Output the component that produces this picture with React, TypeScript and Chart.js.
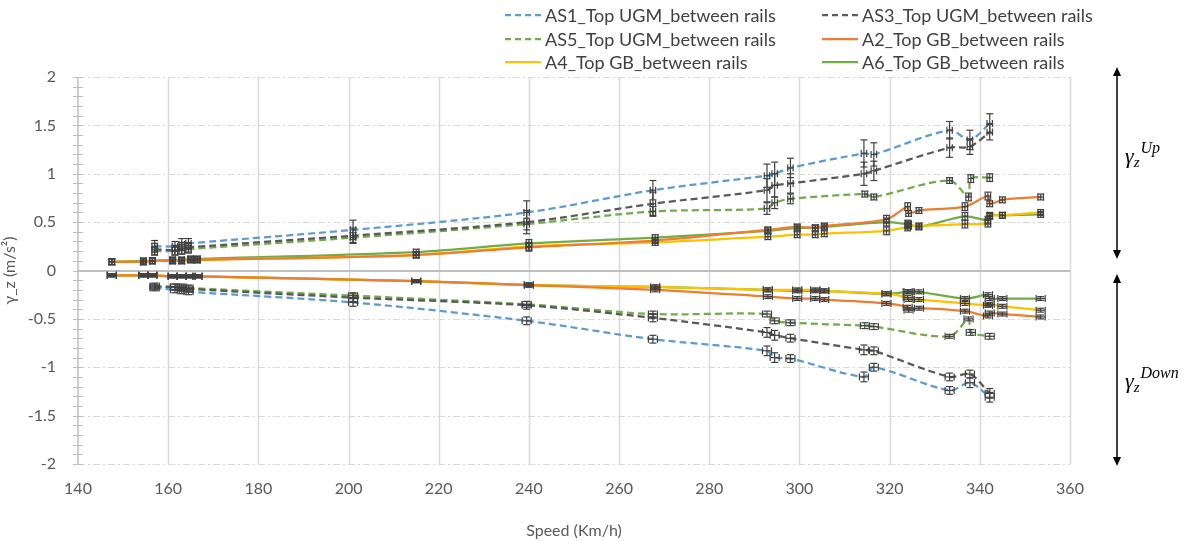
import React, { useEffect, useRef } from "react";
import { Chart, registerables } from "chart.js";

Chart.register(...registerables);

// ---------- data ----------
const X_TICKS = [140, 160, 180, 200, 220, 240, 260, 280, 300, 320, 340, 360];
const Y_TICKS = [-2, -1.5, -1, -0.5, 0, 0.5, 1, 1.5, 2];

const AS_SPEED = [157, 161.5, 163, 164.5, 201, 239.5, 267.5, 292.8, 294.5, 298, 314.3, 316.5, 333.3, 337.8, 342.2];
const AS1_UP = [0.25, 0.25, 0.27, 0.28, 0.42, 0.6, 0.83, 0.98, 1.0, 1.06, 1.21, 1.2, 1.45, 1.35, 1.52];
const AS1_DOWN = [-0.18, -0.2, -0.21, -0.22, -0.33, -0.52, -0.71, -0.83, -0.9, -0.91, -1.1, -1.0, -1.24, -1.16, -1.31];
const AS1_UP_ERR = [0.06, 0.05, 0.06, 0.05, 0.1, 0.12, 0.1, 0.12, 0.12, 0.1, 0.14, 0.12, 0.09, 0.1, 0.1];
const AS1_DOWN_ERR = [0.03, 0.03, 0.03, 0.03, 0.04, 0.04, 0.04, 0.05, 0.05, 0.04, 0.05, 0.04, 0.04, 0.05, 0.05];

const AS3_UP = [0.22, 0.21, 0.23, 0.24, 0.36, 0.5, 0.69, 0.83, 0.88, 0.9, 1.0, 1.03, 1.27, 1.28, 1.43];
const AS3_DOWN = [-0.17, -0.17, -0.18, -0.19, -0.28, -0.36, -0.49, -0.64, -0.67, -0.7, -0.82, -0.83, -1.1, -1.07, -1.27];
const AS3_UP_ERR = [0.06, 0.05, 0.06, 0.05, 0.08, 0.12, 0.12, 0.12, 0.12, 0.1, 0.12, 0.1, 0.1, 0.08, 0.08];
const AS3_DOWN_ERR = [0.03, 0.03, 0.03, 0.03, 0.04, 0.04, 0.04, 0.05, 0.05, 0.04, 0.05, 0.04, 0.04, 0.04, 0.05];

const AS5_SPEED = [157, 161.5, 163, 164.5, 201, 239.5, 267.5, 292.8, 294.5, 298, 314.5, 316.5, 333.3, 337.5, 338, 342.2];
const AS5_UP = [0.2, 0.2, 0.21, 0.22, 0.34, 0.48, 0.61, 0.64, 0.7, 0.74, 0.79, 0.76, 0.93, 0.76, 0.95, 0.96];
const AS5_DOWN = [-0.16, -0.17, -0.17, -0.18, -0.26, -0.35, -0.45, -0.45, -0.52, -0.54, -0.57, -0.58, -0.68, -0.5, -0.64, -0.68];
const AS5_UP_ERR = [0.04, 0.04, 0.04, 0.04, 0.05, 0.06, 0.05, 0.06, 0.06, 0.05, 0.03, 0.03, 0.03, 0.04, 0.04, 0.04];
const AS5_DOWN_ERR = [0.03, 0.03, 0.03, 0.03, 0.03, 0.03, 0.03, 0.03, 0.03, 0.03, 0.03, 0.03, 0.02, 0.02, 0.03, 0.03];

const A_SPEED = [147.5, 154.5, 156.5, 161, 163, 165, 166.5, 215, 240, 268, 293, 299.5, 303.5, 305.5, 319.3, 324, 324.2, 326.5, 336.7, 341.8, 342.2, 345, 353.5];
const A2_UP = [0.09, 0.09, 0.1, 0.1, 0.1, 0.11, 0.11, 0.16, 0.24, 0.31, 0.42, 0.45, 0.44, 0.46, 0.53, 0.66, 0.59, 0.62, 0.66, 0.77, 0.69, 0.73, 0.76];
const A2_DOWN = [-0.05, -0.05, -0.05, -0.06, -0.06, -0.06, -0.06, -0.11, -0.15, -0.2, -0.27, -0.29, -0.29, -0.3, -0.34, -0.38, -0.41, -0.39, -0.42, -0.47, -0.44, -0.45, -0.48];
const A4_UP = [0.09, 0.09, 0.1, 0.1, 0.1, 0.11, 0.11, 0.16, 0.25, 0.29, 0.35, 0.37, 0.37, 0.38, 0.41, 0.45, 0.46, 0.46, 0.48, 0.49, 0.56, 0.57, 0.6];
const A4_DOWN = [-0.05, -0.05, -0.05, -0.06, -0.06, -0.06, -0.06, -0.11, -0.15, -0.17, -0.2, -0.2, -0.2, -0.21, -0.24, -0.28, -0.3, -0.3, -0.34, -0.36, -0.35, -0.37, -0.41];
const A6_UP = [0.09, 0.1, 0.1, 0.11, 0.11, 0.12, 0.12, 0.19, 0.28, 0.34, 0.41, 0.44, 0.44, 0.45, 0.5, 0.48, 0.48, 0.45, 0.56, 0.52, 0.57, 0.57, 0.58];
const A6_DOWN = [-0.05, -0.05, -0.05, -0.06, -0.06, -0.06, -0.06, -0.11, -0.15, -0.17, -0.2, -0.21, -0.21, -0.21, -0.24, -0.22, -0.22, -0.22, -0.29, -0.25, -0.29, -0.29, -0.29];
const A_UP_ERR = [0.03, 0.03, 0.03, 0.03, 0.03, 0.03, 0.03, 0.03, 0.04, 0.03, 0.03, 0.03, 0.03, 0.03, 0.04, 0.04, 0.03, 0.03, 0.04, 0.04, 0.03, 0.03, 0.03];
const A_DOWN_ERR = [0.015, 0.015, 0.015, 0.015, 0.015, 0.015, 0.015, 0.015, 0.02, 0.02, 0.02, 0.02, 0.02, 0.02, 0.02, 0.02, 0.02, 0.02, 0.02, 0.02, 0.02, 0.02, 0.02];

const X_ERR_UP = 0.6;
const X_ERR_DOWN = 1.0;

const SERIES = [
  { name: "AS1_Top UGM_between rails", color: "#5B9BD5", dashed: true, speed: AS_SPEED, up: AS1_UP, down: AS1_DOWN, upErr: AS1_UP_ERR, downErr: AS1_DOWN_ERR },
  { name: "AS3_Top UGM_between rails", color: "#595959", dashed: true, speed: AS_SPEED, up: AS3_UP, down: AS3_DOWN, upErr: AS3_UP_ERR, downErr: AS3_DOWN_ERR },
  { name: "AS5_Top UGM_between rails", color: "#70AD47", dashed: true, speed: AS5_SPEED, up: AS5_UP, down: AS5_DOWN, upErr: AS5_UP_ERR, downErr: AS5_DOWN_ERR },
  { name: "A2_Top GB_between rails", color: "#ED7D31", dashed: false, speed: A_SPEED, up: A2_UP, down: A2_DOWN, upErr: A_UP_ERR, downErr: A_DOWN_ERR },
  { name: "A4_Top GB_between rails", color: "#FFC000", dashed: false, speed: A_SPEED, up: A4_UP, down: A4_DOWN, upErr: A_UP_ERR, downErr: A_DOWN_ERR },
  { name: "A6_Top GB_between rails", color: "#70AD47", dashed: false, speed: A_SPEED, up: A6_UP, down: A6_DOWN, upErr: A_UP_ERR, downErr: A_DOWN_ERR },
];

const FONT = "Lato, 'Open Sans', sans-serif";
const DASH = [7, 4];

function line(ctx: CanvasRenderingContext2D, x1: number, y1: number, x2: number, y2: number) {
  ctx.beginPath();
  ctx.moveTo(x1, y1);
  ctx.lineTo(x2, y2);
  ctx.stroke();
}

const backgroundPlugin = {
  id: "bgGrid",
  beforeDatasetsDraw(chart: any) {
    const { ctx, chartArea: a, scales } = chart;
    const x = scales.x;
    const y = scales.y;
    ctx.save();
    ctx.strokeStyle = "#d9d9d9";
    ctx.lineWidth = 1.5;
    for (const t of X_TICKS) {
      if (t === X_TICKS[0]) continue;
      const px = Math.round(x.getPixelForValue(t)) + 0.5;
      line(ctx, px, a.top, px, a.bottom);
    }
    ctx.lineWidth = 1;
    ctx.setLineDash([7, 3, 2, 3]);
    for (const t of Y_TICKS) {
      if (t === 0) continue;
      const py = Math.round(y.getPixelForValue(t)) + 0.5;
      line(ctx, a.left, py, a.right, py);
    }
    ctx.setLineDash([]);
    ctx.strokeStyle = "#bfbfbf";
    ctx.lineWidth = 2;
    const y0 = Math.round(y.getPixelForValue(0));
    line(ctx, a.left, y0, a.right, y0);
    ctx.lineWidth = 1.5;
    line(ctx, a.left, a.top, a.left, a.bottom);
    ctx.lineWidth = 1;
    for (let i = -20; i <= 20; i++) {
      const py = Math.round(y.getPixelForValue(i / 10)) + 0.5;
      line(ctx, a.left - 5, py, a.left + 5, py);
    }
    ctx.restore();
  },
};

const errorBarPlugin = {
  id: "errBars",
  afterDatasetsDraw(chart: any) {
    const { ctx, scales } = chart;
    const x = scales.x;
    const y = scales.y;
    ctx.save();
    ctx.strokeStyle = "#404040";
    ctx.lineWidth = 1.2;
    chart.data.datasets.forEach((ds: any) => {
      const errs: number[] = ds.errY;
      const xe: number = ds.errX;
      ds.data.forEach((p: any, i: number) => {
        const cx = x.getPixelForValue(p.x);
        const cy = y.getPixelForValue(p.y);
        const yT = y.getPixelForValue(p.y + errs[i]);
        const yB = y.getPixelForValue(p.y - errs[i]);
        const xL = x.getPixelForValue(p.x - xe);
        const xR = x.getPixelForValue(p.x + xe);
        const cap = 3.5;
        line(ctx, cx, yT, cx, yB);
        line(ctx, cx - cap, yT, cx + cap, yT);
        line(ctx, cx - cap, yB, cx + cap, yB);
        line(ctx, xL, cy, xR, cy);
        line(ctx, xL, cy - cap, xL, cy + cap);
        line(ctx, xR, cy - cap, xR, cy + cap);
      });
    });
    ctx.restore();
  },
};

function arrow(ctx: CanvasRenderingContext2D, x: number, y1: number, y2: number) {
  ctx.lineWidth = 1.5;
  line(ctx, x, y1 + 6, x, y2 - 6);
  ctx.beginPath();
  ctx.moveTo(x, y1);
  ctx.lineTo(x - 4, y1 + 9);
  ctx.lineTo(x + 4, y1 + 9);
  ctx.closePath();
  ctx.fill();
  ctx.beginPath();
  ctx.moveTo(x, y2);
  ctx.lineTo(x - 4, y2 - 9);
  ctx.lineTo(x + 4, y2 - 9);
  ctx.closePath();
  ctx.fill();
}

function gammaLabel(ctx: CanvasRenderingContext2D, x: number, y: number, sup: string) {
  ctx.textBaseline = "alphabetic";
  ctx.textAlign = "left";
  ctx.font = "italic 22px 'Liberation Serif', 'DejaVu Serif', serif";
  ctx.fillText("γ", x, y);
  const gw = ctx.measureText("γ").width;
  ctx.font = "italic 15px 'Liberation Serif', 'DejaVu Serif', serif";
  ctx.fillText("z", x + gw, y + 4);
  const zw = ctx.measureText("z").width;
  ctx.font = "italic 16px 'Liberation Serif', 'DejaVu Serif', serif";
  ctx.fillText(sup, x + gw + zw + 1, y - 10);
}

const decorPlugin = {
  id: "decor",
  afterDraw(chart: any) {
    const { ctx } = chart;
    ctx.save();
    const cols = [505, 822];
    const rows = [15, 39, 62];
    SERIES.forEach((s, i) => {
      const lx = cols[i % 2];
      const ly = rows[Math.floor(i / 2)];
      ctx.strokeStyle = s.color;
      ctx.lineWidth = 2.25;
      ctx.setLineDash(s.dashed ? [6, 4] : []);
      line(ctx, lx, ly, lx + 36, ly);
      ctx.setLineDash([]);
      ctx.fillStyle = "#404040";
      ctx.font = `18px ${FONT}`;
      ctx.textBaseline = "middle";
      ctx.textAlign = "left";
      ctx.fillText(s.name, lx + 40, ly + 1);
    });
    ctx.strokeStyle = "#000";
    ctx.fillStyle = "#000";
    arrow(ctx, 1117, 67, 259);
    arrow(ctx, 1117, 274, 466);
    gammaLabel(ctx, 1125, 163, "Up");
    gammaLabel(ctx, 1125, 388, "Down");
    ctx.restore();
  },
};

export default function App() {
  const ref = useRef<HTMLCanvasElement>(null);
  useEffect(() => {
    document.body.style.margin = "0";
    const datasets: any[] = [];
    SERIES.forEach((s) => {
      [
        { vals: s.up, err: s.upErr, xe: X_ERR_UP },
        { vals: s.down, err: s.downErr, xe: X_ERR_DOWN },
      ].forEach((b) => {
        datasets.push({
          label: s.name,
          data: s.speed.map((v, i) => ({ x: v, y: b.vals[i] })),
          errY: b.err,
          errX: b.xe,
          showLine: true,
          borderColor: s.color,
          backgroundColor: s.color,
          borderWidth: 2.25,
          borderDash: s.dashed ? DASH : [],
          pointRadius: 0,
          tension: 0.3,
        });
      });
    });
    const chart = new Chart(ref.current!, {
      type: "scatter",
      data: { datasets },
      plugins: [backgroundPlugin, errorBarPlugin, decorPlugin],
      options: {
        animation: false,
        responsive: false,
        layout: { padding: { top: 77, right: 122, left: 0, bottom: 0 } },
        plugins: { legend: { display: false }, tooltip: { enabled: false } },
        scales: {
          x: {
            type: "linear",
            min: 140,
            max: 360,
            afterBuildTicks: (s: any) => { s.ticks = X_TICKS.map((v) => ({ value: v })); },
            afterFit: (s: any) => { s.height = 77; },
            grid: { display: false, drawTicks: false },
            border: { display: false },
            ticks: { color: "#595959", font: { family: FONT, size: 16 }, padding: 15, maxRotation: 0 },
            title: { display: true, text: "Speed (Km/h)", color: "#595959", font: { family: FONT, size: 16 }, padding: { top: 0, bottom: 1 } },
          },
          y: {
            type: "linear",
            min: -2,
            max: 2,
            afterBuildTicks: (s: any) => { s.ticks = Y_TICKS.map((v) => ({ value: v })); },
            afterFit: (s: any) => { s.width = 78; },
            grid: { display: false, drawTicks: false },
            border: { display: false },
            ticks: { color: "#595959", font: { family: FONT, size: 16 }, padding: 22, callback: (v: any) => String(v) },
            title: { display: true, text: "γ_z (m/s²)", color: "#595959", font: { family: FONT, size: 16 }, padding: { top: 0, bottom: 0 } },
          },
        },
      },
    });
    return () => chart.destroy();
  }, []);
  return (
    <div style={{ position: "absolute", left: 0, top: 0, width: 1192, height: 541, background: "#fff" }}>
      <canvas ref={ref} width={1192} height={541} style={{ display: "block" }} />
    </div>
  );
}
